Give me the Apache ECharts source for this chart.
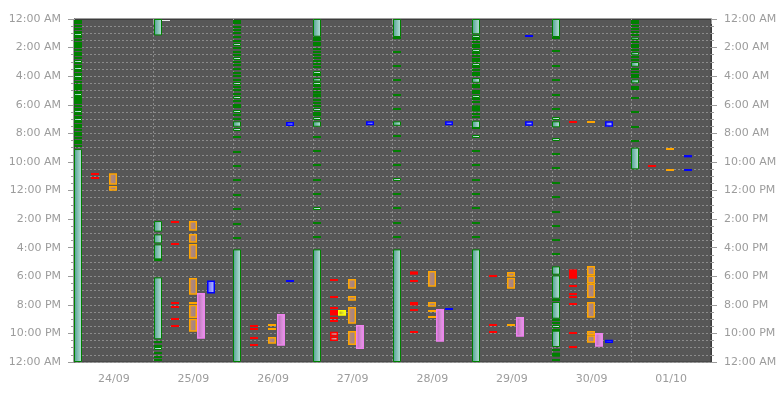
<!DOCTYPE html>
<html><head><meta charset="utf-8">
<script src="https://cdn.jsdelivr.net/npm/echarts@6/dist/echarts.min.js"></script>
<style>html,body{margin:0;padding:0;background:#fff}#c{width:783px;height:394px}</style>
</head><body><div id="c"></div>
<script>
const days = ['24/09','25/09','26/09','27/09','28/09','29/09','30/09','01/10'];
const yTickLabels = ['12:00 AM','2:00 AM','4:00 AM','6:00 AM','8:00 AM','10:00 AM','12:00 PM','2:00 PM','4:00 PM','6:00 PM','8:00 PM','10:00 PM','12:00 AM'];

// teal blocks [day, startHour, endHour]
const tealBlocks = [
 [0,9.1,24],
 [1,0,1.15],[1,14.14,14.88],[1,15.07,15.70],[1,15.77,16.82],[1,18.08,22.41],
 [2,7.16,7.54],[2,16.12,24],
 [3,0,1.24],[3,4.13,4.37],[3,7.16,7.54],[3,16.12,24],
 [4,0,1.26],[4,7.16,7.47],[4,16.12,24],
 [5,0,1.07],[5,4.13,4.46],[5,7.12,7.63],[5,16.12,24],
 [6,0,1.26],[6,7.16,7.58],[6,17.31,17.89],[6,17.94,19.57],[6,19.80,20.97],[6,21.81,22.95],
 [7,1.28,1.47],[7,2.31,2.54],[7,3.01,3.34],[7,4.22,4.50],[7,9.0,10.52]
];
// solid green blocks [day, start, end]
const greenSolid = [[3,5.20,5.48],[5,6.04,6.46],[6,23.35,23.63]];
// green ticks [day, hour]
const greenTicks = [
 [0,0.12],[0,0.30],[0,0.49],[0,0.72],[0,0.91],[0,1.28],[0,1.47],[0,1.66],[0,1.80],[0,1.98],[0,2.17],[0,2.36],[0,2.54],[0,2.73],[0,3.10],[0,3.29],[0,3.66],[0,3.85],[0,4.22],[0,4.41],[0,4.60],[0,4.78],[0,4.92],[0,5.11],[0,5.44],[0,5.58],[0,5.72],[0,5.90],[0,6.09],[0,6.28],[0,6.65],[0,6.84],[0,7.21],[0,7.40],[0,7.58],[0,7.77],[0,7.96],[0,8.14],[0,8.33],[0,8.52],[0,8.70],[0,8.89],
 [1,16.86],[1,22.60],[1,22.88],[1,23.35],[1,23.63],[1,23.86],
 [2,0.12],[2,0.30],[2,0.54],[2,0.77],[2,1.00],[2,1.24],[2,1.52],[2,2.03],[2,2.31],[2,2.50],[2,3.01],[2,3.24],[2,3.48],[2,3.76],[2,3.99],[2,4.27],[2,4.74],[2,4.97],[2,5.25],[2,5.72],[2,6.00],[2,6.18],[2,6.70],[2,6.98],[2,8.23],[2,9.31],[2,10.26],[2,11.27],[2,12.29],[2,13.27],[2,14.35],[2,15.33],
 [3,1.30],[3,1.47],[3,1.66],[3,1.84],[3,2.08],[3,2.31],[3,2.50],[3,2.73],[3,2.92],[3,3.15],[3,3.34],[3,3.94],[3,4.69],[3,4.92],[3,5.11],[3,5.67],[3,5.86],[3,6.09],[3,6.56],[3,6.74],[3,8.23],[3,9.22],[3,10.19],[3,11.27],[3,12.25],[3,14.25],[3,15.23],
 [4,1.30],[4,2.29],[4,3.27],[4,4.27],[4,5.30],[4,6.28],[4,8.19],[4,9.22],[4,10.19],[4,12.25],[4,13.23],[4,14.25],[4,15.23],
 [5,1.42],[5,1.61],[5,1.80],[5,1.98],[5,2.41],[5,2.59],[5,2.78],[5,2.96],[5,3.34],[5,3.57],[5,3.76],[5,3.94],[5,4.64],[5,4.78],[5,5.02],[5,5.20],[5,5.62],[5,5.81],[5,6.65],[5,6.84],[5,7.66],[5,9.22],[5,10.19],[5,11.27],[5,12.25],[5,13.23],[5,14.25],[5,15.23],
 [6,1.30],[6,2.22],[6,3.27],[6,4.27],[6,5.30],[6,6.28],[6,9.45],[6,10.43],[6,11.45],[6,12.43],[6,13.51],[6,14.49],[6,15.47],[6,16.47],[6,19.65],[6,21.09],[6,21.25],[6,21.76],[6,23.16],[6,23.86],
 [7,0.12],[7,0.30],[7,0.49],[7,0.72],[7,0.91],[7,1.10],[7,1.61],[7,1.80],[7,1.98],[7,2.17],[7,2.68],[7,2.87],[7,3.52],[7,3.71],[7,3.90],[7,4.08],[7,4.74],[7,4.92],[7,5.53],[7,6.51],[7,7.54],[7,8.52]
];
// light (outlined) green ticks [day, hour]
const lightTicks = [
 [0,1.10],[0,2.96],[0,3.48],[0,4.04],[0,5.25],[0,6.46],[0,7.02],
 [1,23.09],
 [2,1.75],[2,2.75],[2,4.50],[2,5.48],[2,6.46],[2,7.72],
 [3,3.71],[3,4.50],[3,6.32],[3,6.93],[3,13.23],
 [4,11.22],
 [5,1.19],[5,2.17],[5,3.15],[5,5.44],[5,8.19],
 [6,6.93],[6,8.42],[6,21.51]
];
const whiteTicks = [[1,0.07]];
const redTicks = [
 [0,10.82],[0,11.13],
 [1,14.18],[1,15.77],[1,19.87],[1,20.13],[1,20.97],[1,21.48],
 [2,21.46],[2,21.67],[2,22.35],[2,22.79],
 [3,18.27],[3,19.43],[3,20.22],[3,20.92],[3,21.11],
 [4,18.36],[4,20.34],[4,21.93],
 [5,17.99],[5,21.41],[5,21.90],
 [6,7.21],[6,18.68],[6,19.22],[6,19.43],[6,19.94],[6,21.95],[6,22.93],
 [7,10.31]
];
const redBlocks = [[3,20.36,20.74],[4,17.66,17.89],[4,19.80,20.04],[6,17.52,18.17]];
const redBoxes = [[3,21.88,22.20],[3,22.22,22.53]];
const yellowBoxes = [[3,20.36,20.76]];
const orangeBoxes = [
 [0,10.80,11.60],[0,11.69,12.01],
 [1,14.14,14.81],[1,15.05,15.65],[1,15.75,16.77],[1,18.12,19.29],[1,19.99,20.92],[1,20.97,21.88],
 [2,22.25,22.72],
 [3,18.19,18.87],[3,19.38,19.71],[3,20.15,21.32],[3,21.83,22.81],
 [4,17.63,18.73],[4,19.80,20.13],
 [5,17.70,18.03],[5,18.10,18.87],
 [6,17.28,17.94],[6,17.94,18.50],[6,18.50,19.52],[6,19.80,20.90],[6,21.83,22.11],[6,22.13,22.65]
];
const orangeTicks = [[1,19.87],[2,21.43],[2,21.67],[4,20.41],[4,20.83],[5,21.44],[6,7.21],[7,9.07],[7,10.54]];
const pinkBoxes = [[1,19.17,22.37],[2,20.64,22.86],[3,21.41,23.09],[4,20.29,22.58],[5,20.85,22.23],[6,21.97,22.93]];
const blueBoxes = [[1,18.29,19.20],[2,7.21,7.49],[3,7.16,7.44],[4,7.16,7.44],[5,7.16,7.47],[6,7.16,7.54],[6,22.44,22.67],[7,9.52,9.68]];
const blueTicks = [[2,18.31],[4,20.27],[5,1.17],[7,10.54]];

const LG = (a,b)=>new echarts.graphic.LinearGradient(0,0,1,0,[{offset:0,color:a},{offset:1,color:b}]);
const lanes = {green:[0,0.1],white:[0.1,0.2],red:[0.215,0.315],yellow:[0.315,0.415],orange:[0.44,0.54],pink:[0.547,0.647],blue:[0.665,0.765]};

function mk(name, data, lane, style, tickH) {
  return {
    type:'custom', name, data, clip:false,
    encode: tickH ? {x:0, y:1} : {x:0, y:[1,2]},
    renderItem(params, api) {
      const d = api.value(0);
      const c = api.coord([d, 0]);
      const bw = api.size([1, 0])[0];
      let xl = Math.round(c[0] - bw/2 + bw*lane[0]);
      let w = Math.round(bw*(lane[1]-lane[0]));
      let y1, y2;
      if (tickH) { const y = api.coord([d, api.value(1)])[1]; y1 = Math.round(y - tickH/2); y2 = y1 + tickH; }
      else { y1 = api.coord([d, api.value(1)])[1]; y2 = api.coord([d, api.value(2)])[1]; }
      const lw = style.lineWidth || 0;
      return {type:'rect', shape:{x:xl+lw/2, y:y1+lw/2, width:Math.max(w-lw,0.5), height:Math.max(y2-y1-lw,0.5)}, style: Object.assign({}, style)};
    }
  };
}

const chart = echarts.init(document.getElementById('c'), null, {renderer:'canvas'});
const axLabel = {color:'#9c9c9c', fontFamily:'DejaVu Sans', fontSize:11};
const yAxisBase = (pos) => ({
  type:'value', min:0, max:24, interval:2, inverse:true, position:pos,
  axisLine:{show:true, lineStyle:{color:'#3c3c3c'}},
  axisTick:{show:true, length:6, lineStyle:{color:'#9c9c9c'}},
  minorTick:{show:true, splitNumber:4, length:3, lineStyle:{color:'#9c9c9c'}},
  splitLine:{show:true, lineStyle:{color:'#8c8c8c', type:[2,2], width:1}},
  minorSplitLine:{show:true, lineStyle:{color:'#8c8c8c', type:[2,2], width:1}},
  axisLabel:Object.assign({margin:13, formatter:v=>yTickLabels[Math.round(v/2)]}, axLabel)
});
chart.setOption({
  animation:false,
  backgroundColor:'#ffffff',
  grid:{left:74, right:72, top:19, bottom:32, show:true, backgroundColor:'#575757', borderColor:'#3c3c3c', borderWidth:1},
  xAxis:{type:'category', data:days, boundaryGap:true,
    axisLine:{show:true, lineStyle:{color:'#3c3c3c'}},
    axisTick:{show:true, length:5, alignWithLabel:false, lineStyle:{color:'#9c9c9c'}},
    splitLine:{show:true, lineStyle:{color:'#8a8a8a', type:[2,2]}},
    axisLabel:Object.assign({margin:12}, axLabel)},
  yAxis:[yAxisBase('left'), Object.assign(yAxisBase('right'), {splitLine:{show:false}, minorSplitLine:{show:false}})],
  series:[
    mk('teal', tealBlocks, lanes.green, {fill:LG('#4f9e8f','#bde4dc'), stroke:'#008000', lineWidth:1}),
    mk('gsolid', greenSolid, lanes.green, {fill:'#008000'}),
    mk('gticks', greenTicks, lanes.green, {fill:'#008000'}, 2),
    mk('lticks', lightTicks, lanes.green, {fill:LG('#7cc0b2','#e2f4f0'), stroke:'#008000', lineWidth:1}, 3),
    mk('wticks', whiteTicks, lanes.white, {fill:'#e8e8e8'}, 1),
    mk('rticks', redTicks, lanes.red, {fill:'#ff0000'}, 2),
    mk('rblocks', redBlocks, lanes.red, {fill:'#ff0000'}),
    mk('rboxes', redBoxes, lanes.red, {fill:LG('#b07070','#e0b8b8'), stroke:'#ff0000', lineWidth:1.5}),
    mk('yboxes', yellowBoxes, lanes.yellow, {fill:LG('#a8a800','#ffff50'), stroke:'#ffff00', lineWidth:1.5}),
    mk('oboxes', orangeBoxes, lanes.orange, {fill:LG('#c68c66','#948090'), stroke:'#ffa500', lineWidth:1.5}),
    mk('oticks', orangeTicks, lanes.orange, {fill:'#ffa500'}, 2),
    mk('pboxes', pinkBoxes, lanes.pink, {fill:LG('#b868b8','#eaa4ea'), stroke:'#ee82ee', lineWidth:1.5}),
    mk('bboxes', blueBoxes, lanes.blue, {fill:LG('#5a5aff','#c4ccff'), stroke:'#0000ff', lineWidth:1.5}),
    mk('bticks', blueTicks, lanes.blue, {fill:'#0000ff'}, 2)
  ]
});
</script></body></html>
